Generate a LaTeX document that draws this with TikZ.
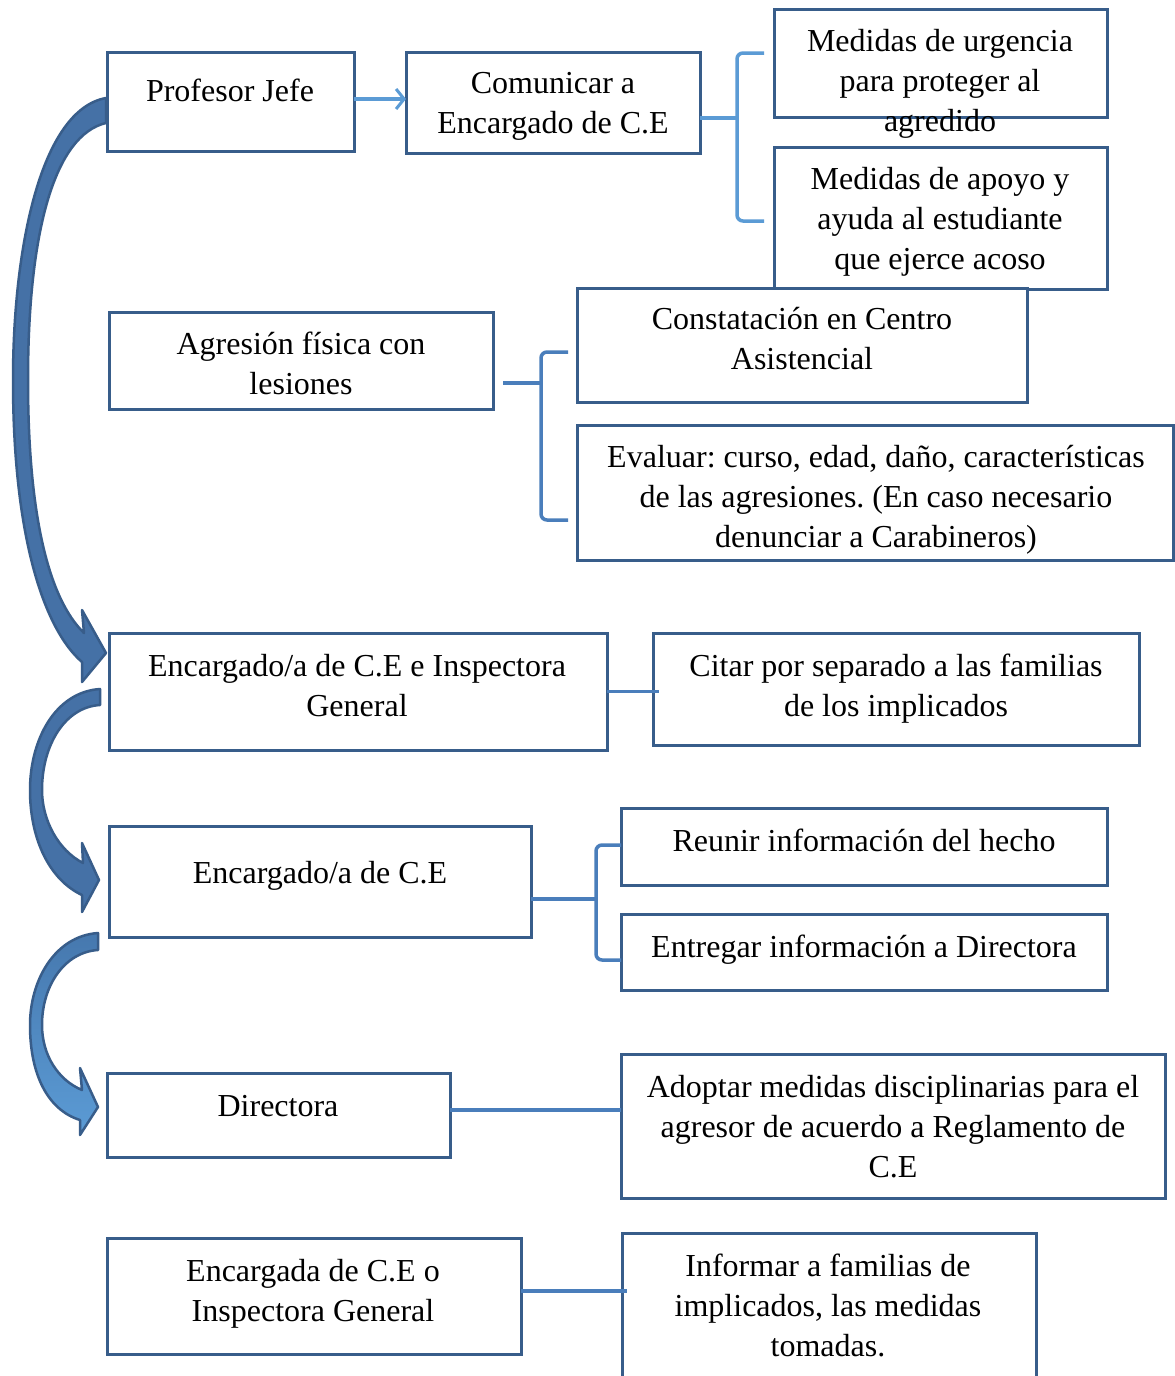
\documentclass[tikz,border=0pt]{standalone}
\usepackage{fontspec}
\setmainfont{Liberation Serif}
\usetikzlibrary{arrows.meta}
\definecolor{boxc}{HTML}{385D8A}
\definecolor{lnA}{HTML}{5B9BD5}
\definecolor{lnB}{HTML}{4A7EBB}
\definecolor{arwA}{HTML}{4571A6}
\definecolor{arwC}{HTML}{5B9BD5}
\definecolor{arwCt}{HTML}{4678AE}
\begin{document}
\frenchspacing
\begin{tikzpicture}[x=1pt, y=-1pt,
  bx/.style={draw=boxc, line width=3pt, fill=white, inner sep=0pt, outer sep=0pt},
  tx/.style={font=\fontsize{32}{40}\selectfont, align=center, inner sep=0pt, text=black},
  brk/.style={line width=3.5pt, rounded corners=6pt},
  cn/.style={line width=3.5pt},
  blockarrow/.style={draw=boxc, line width=2.5pt, line join=round}]
\useasboundingbox (0,0) rectangle (1175,1376);
\fill[white] (0,0) rectangle (1175,1376);

% block arrows
\path[blockarrow, fill=arwA] (106,98) .. controls (40,110) and (13,250) .. (13,380) .. controls (13,540) and (45,630) .. (82,662) -- (82,682) -- (106,653) -- (82,610) -- (84,633) .. controls (50,600) and (28,520) .. (28,380) .. controls (28,230) and (55,135) .. (106,123) -- cycle;
\path[blockarrow, fill=arwA] (100,689) .. controls (55,692) and (30,740) .. (30,790) .. controls (30,840) and (50,880) .. (82,895) -- (82,912) -- (99,880) -- (82,843) -- (83,863) .. controls (58,850) and (42,820) .. (42,790) .. controls (42,745) and (65,707) .. (100,705) -- cycle;
\path[blockarrow, top color=arwCt, bottom color=arwC] (98,933) .. controls (55,936) and (30,980) .. (30,1025) .. controls (30,1075) and (48,1110) .. (80,1120) -- (80,1135) -- (98,1107) -- (80,1068) -- (82,1090) .. controls (58,1080) and (42,1055) .. (42,1025) .. controls (42,985) and (65,952) .. (98,950) -- cycle;

% boxes
\node[bx, minimum width=247pt, minimum height=99pt] (pj) at (230.5,101.5) {};
\node[bx, minimum width=294pt, minimum height=101pt] (com) at (553,102.5) {};
\node[bx, minimum width=333pt, minimum height=108pt] (urg) at (940.5,63) {};
\node[bx, minimum width=333pt, minimum height=142pt] (apo) at (940.5,218) {};
\node[bx, minimum width=384pt, minimum height=97pt] (agr) at (301,360.5) {};
\node[bx, minimum width=450pt, minimum height=114pt] (con) at (802,345) {};
\node[bx, minimum width=596pt, minimum height=135pt] (eva) at (875,492.5) {};
\node[bx, minimum width=498pt, minimum height=117pt] (eie) at (358,691.5) {};
\node[bx, minimum width=486pt, minimum height=112pt] (cit) at (896,689) {};
\node[bx, minimum width=422pt, minimum height=111pt] (ece) at (320,881.5) {};
\node[bx, minimum width=486pt, minimum height=77pt] (reu) at (864,846.5) {};
\node[bx, minimum width=486pt, minimum height=76pt] (ent) at (864,952) {};
\node[bx, minimum width=343pt, minimum height=84pt] (dir) at (278.5,1115) {};
\node[bx, minimum width=544pt, minimum height=144pt] (ado) at (893,1126) {};
\node[bx, minimum width=414pt, minimum height=116pt] (eoi) at (314,1296) {};
\node[bx, minimum width=414pt, minimum height=157pt] (inf) at (829,1311.5) {};

% texts
\node[tx] (pjt) at (230,93) {\strut Profesor Jefe};
\node[tx] (comt) at (553,105) {\strut Comunicar a\\\strut Encargado de C.E};
\node[tx] (urgt) at (940,83) {\strut Medidas de urgencia\\\strut para proteger al\\\strut agredido};
\node[tx] (apot) at (940,221) {\strut Medidas de apoyo y\\\strut ayuda al estudiante\\\strut que ejerce acoso};
\node[tx] (agrt) at (301,366) {\strut Agresión física con\\\strut lesiones};
\node[tx] (cont) at (802,341) {\strut Constatación en Centro\\\strut Asistencial};
\node[tx] (evat) at (876,499) {\strut Evaluar: curso, edad, daño, características\\\strut de las agresiones. (En caso necesario\\\strut denunciar a Carabineros)};
\node[tx] (eiet) at (357,688) {\strut Encargado/a de C.E e Inspectora\\\strut General};
\node[tx] (citt) at (896,688) {\strut Citar por separado a las familias\\\strut de los implicados};
\node[tx] (ecet) at (320,875) {\strut Encargado/a de C.E};
\node[tx] (reut) at (864,843) {\strut Reunir información del hecho};
\node[tx] (entt) at (864,949) {\strut Entregar información a Directora};
\node[tx] (dirt) at (278,1108) {\strut Directora};
\node[tx] (adot) at (893,1129) {\strut Adoptar medidas disciplinarias para el\\\strut agresor de acuerdo a Reglamento de\\\strut C.E};
\node[tx] (eoit) at (313,1293) {\strut Encargada de C.E o\\\strut Inspectora General};
\node[tx] (inft) at (828,1308) {\strut Informar a familias de\\\strut implicados, las medidas\\\strut tomadas.};

% connectors
\draw[lnA, cn, -{Straight Barb[length=8pt, width=20pt, line width=3pt]}] ([yshift=2.5pt]pj.east) -- ([yshift=2.5pt]pj.east -| com.west);

\coordinate (b1a) at (764,53);
\coordinate (b1b) at (764,221);
\coordinate (b1m) at (737,118);
\draw[brk, lnA] (b1a) -- (737,53) -- (737,221) -- (b1b);
\draw[lnA, cn] ([yshift=-15.5pt]com.east) -- (b1m);

\coordinate (b2a) at (568,352);
\coordinate (b2b) at (568,520);
\coordinate (b2m) at (541,383);
\draw[brk, lnB] (b2a) -- (541,352) -- (541,520) -- (b2b);
\draw[lnB, cn, shorten <=10pt] ([yshift=-22.5pt]agr.east) -- (b2m);

\draw[lnB, cn] (eie.east) -- ([xshift=6pt]eie.east -| cit.west);

\coordinate (b3m) at (596,899);
\draw[brk, lnB] (reu.west |- 0,845) -- (596,845) -- (596,960) -- (ent.west |- 0,960);
\draw[lnB, cn] ([yshift=-17.5pt]ece.east) -- (b3m);

\draw[lnB, cn] ([yshift=5pt]dir.east) -- ([yshift=5pt]dir.east -| ado.west);
\draw[lnB, cn] ([yshift=5pt]eoi.east) -- ([yshift=5pt,xshift=5pt]eoi.east -| inf.west);
\end{tikzpicture}
\end{document}
